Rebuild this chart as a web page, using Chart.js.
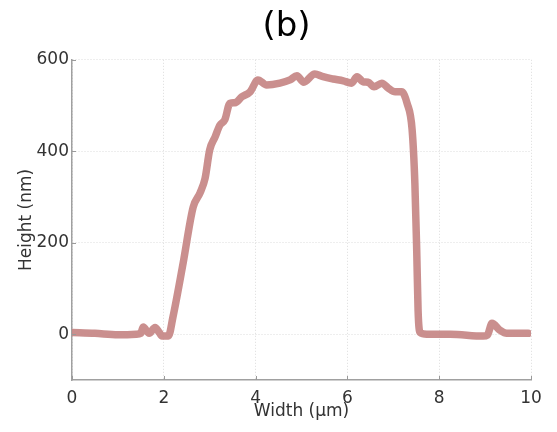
<!DOCTYPE html>
<html>
<head>
<meta charset="utf-8">
<script src="https://cdn.jsdelivr.net/npm/chart.js@4"></script>
<style>
  html, body { margin: 0; padding: 0; background: #fff; }
  #wrap { width: 557px; height: 432px; }
</style>
</head>
<body>
<div id="wrap"><canvas id="profile"></canvas></div>
<script>
// profile
let widthUm = [0, 0.5, 1.0, 1.4, 1.5, 1.55, 1.68, 1.81, 1.9, 1.96, 2.1, 2.2, 2.42, 2.64, 2.79, 2.9, 3.0, 3.12, 3.22, 3.33, 3.44, 3.55, 3.7, 3.88, 4.05, 4.24, 4.53, 4.75, 4.9, 5.05, 5.29, 5.47, 5.69, 5.91, 6.09, 6.21, 6.34, 6.45, 6.58, 6.75, 6.89, 7.04, 7.18, 7.3, 7.41, 7.47, 7.51, 7.54, 7.58, 7.73, 8.24, 8.96, 9.05, 9.15, 9.32, 9.47, 9.94];
let heightNm = [4, 2, -1, 0, 2, 16, 2, 15, 4, -4, -4, 38, 155, 278, 309, 341, 403, 432, 457, 469, 505, 506, 519, 530, 556, 545, 549, 556, 565, 551, 569, 563, 558, 554, 549, 563, 552, 551, 541, 549, 538, 530, 530, 505, 447, 330, 184, 52, 4, 0, 0, -4, -2, 24, 9, 2, 2];
let xTicks = [0, 2, 4, 6, 8, 10];
let yTicks = [0, 200, 400, 600];

let points = widthUm.map((x, i) => ({ x: x, y: heightNm[i] }));
let font = "DejaVu Sans";

// small inward tick marks like the original figure
const innerTicks = {
  id: "innerTicks",
  afterDatasetsDraw(chart) {
    let ctx = chart.ctx;
    let xs = chart.scales.x;
    let ys = chart.scales.y;
    ctx.save();
    ctx.strokeStyle = "#9a9a9a";
    ctx.lineWidth = 1;
    ctx.beginPath();
    xTicks.forEach((v) => {
      let px = Math.round(xs.getPixelForValue(v)) + 0.5;
      ctx.moveTo(px, ys.bottom);
      ctx.lineTo(px, ys.bottom - 4);
    });
    yTicks.forEach((v) => {
      let py = Math.round(ys.getPixelForValue(v)) + 0.5;
      ctx.moveTo(xs.left, py);
      ctx.lineTo(xs.left + 4, py);
    });
    ctx.stroke();
    ctx.restore();
  },
};

new Chart(document.getElementById("profile"), {
  type: "line",
  data: {
    datasets: [
      {
        data: points,
        borderColor: "rgba(198, 134, 132, 0.92)",
        borderWidth: 7.5,
        borderCapStyle: "round",
        borderJoinStyle: "round",
        pointRadius: 0,
        cubicInterpolationMode: "monotone",
        fill: false,
      },
    ],
  },
  options: {
    responsive: true,
    maintainAspectRatio: false,
    animation: false,
    layout: { padding: { left: 16, right: 0, top: 0, bottom: 0 } },
    plugins: {
      legend: { display: false },
      tooltip: { enabled: false },
      title: {
        display: true,
        text: "(b)",
        color: "#000",
        font: { family: font, size: 34, weight: "normal" },
        padding: { top: 7, bottom: 12 },
      },
    },
    scales: {
      x: {
        type: "linear",
        min: 0,
        max: 10,
        afterBuildTicks: (s) => { s.ticks = xTicks.map((v) => ({ value: v })); },
        afterFit: (s) => { s.height = 52; },
        grid: { color: "#dcdcdc", drawTicks: false },
        border: { color: "#a0a0a0", width: 1.5, dash: [1, 2] },
        ticks: {
          color: "#333",
          padding: 8,
          font: { family: font, size: 17 },
        },
        title: {
          display: true,
          text: "Width (µm)",
          color: "#333",
          padding: { top: 0, bottom: 10 },
          font: { family: font, size: 17 },
        },
      },
      y: {
        type: "linear",
        min: -100,
        max: 600,
        afterBuildTicks: (s) => { s.ticks = yTicks.map((v) => ({ value: v })); },
        afterFit: (s) => { s.width = 56; },
        grid: { color: "#dcdcdc", drawTicks: false },
        border: { color: "#a0a0a0", width: 1.5, dash: [1, 2] },
        ticks: {
          color: "#333",
          padding: 3,
          font: { family: font, size: 17 },
        },
        title: {
          display: true,
          text: "Height (nm)",
          color: "#333",
          padding: 0,
          font: { family: font, size: 17 },
        },
      },
      // empty right-hand box that keeps the plot off the right edge
      yRight: {
        type: "linear",
        position: "right",
        min: -100,
        max: 600,
        afterFit: (s) => { s.width = 26; },
        grid: { display: false },
        border: { display: false },
        ticks: { display: false },
      },
    },
  },
  plugins: [innerTicks],
});
</script>
</body>
</html>
